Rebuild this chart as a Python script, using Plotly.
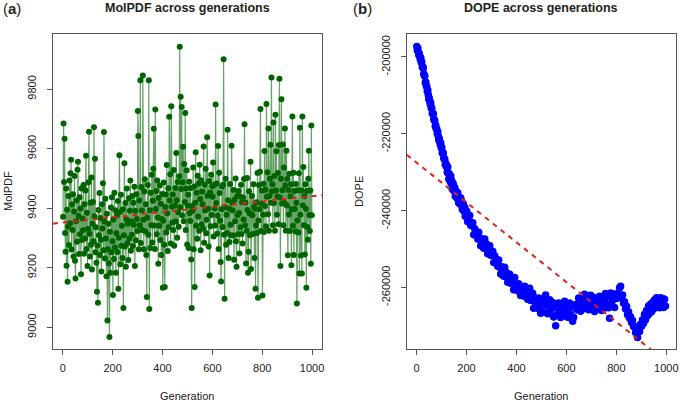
import numpy as np
import plotly.graph_objects as go

# ---------------- data ----------------
# Panel (a): MolPDF per generation (read every 2nd generation)
molpdf = [
    9371, 9684, 9488, 9633, 9317, 9254, 9466, 9207, 9395, 9153, 9338, 9441, 9276, 9493, 9349, 9517, 9563, 9261, 9412, 9327,
    9447, 9238, 9389, 9508, 9223, 9164, 9356, 9426, 9287, 9529, 9556, 9374, 9246, 9437, 9312, 9399, 9178, 9466, 9293, 9365,
    9326, 9478, 9247, 9413, 9298, 9459, 9576, 9263, 9385, 9206, 9331, 9487, 9657, 9314, 9238, 9418, 9277, 9503, 9194, 9348,
    9421, 9289, 9672, 9373, 9566, 9252, 9336, 9217, 9119, 9275, 9082, 9394, 9309, 9451, 9243, 9367, 9294, 9187, 9413, 9332,
    9484, 9259, 9656, 9355, 9231, 9432, 9298, 9171, 9381, 9023, 9262, 9348, 9214, 8967, 9321, 9183, 9402, 9252, 9437, 9289,
    9108, 9362, 9229, 9452, 9268, 9393, 9183, 9316, 9375, 9253, 9424, 9129, 9301, 9578, 9387, 9212, 9445, 9274, 9341, 9233,
    9396, 9065, 9309, 9551, 9271, 9417, 9203, 9363, 9466, 9282, 9348, 9226, 9433, 9298, 9391, 9493, 9257, 9355, 9311, 9441,
    9273, 9418, 9344, 9472, 9206, 9391, 9292, 9447, 9364, 9323, 9726, 9642, 9262, 9426, 9343, 9830, 9283, 9471, 9392, 9327,
    9846, 9361, 9262, 9456, 9497, 9322, 9413, 9243, 9102, 9368, 9478, 9311, 9830, 9061, 9393, 9266, 9452, 9343, 9512, 9285,
    9425, 9532, 9667, 9342, 9263, 9731, 9397, 9458, 9312, 9493, 9369, 9213, 9434, 9341, 9476, 9293, 9415, 9243, 9364, 9448,
    9133, 9358, 9486, 9277, 9135, 9404, 9446, 9318, 9545, 9383, 9256, 9467, 9336, 9707, 9426, 9514, 9281, 9742, 9405, 9352,
    9446, 9327, 9528, 9274, 9409, 9468, 9355, 9585, 9427, 9301, 9488, 9386, 9338, 9507, 9942, 9403, 9774, 9464, 9740, 9375,
    9487, 9606, 9356, 9548, 9421, 9720, 9327, 9466, 9527, 9278, 9408, 9445, 9266, 9489, 9384, 9357, 9468, 9228, 9065, 9407,
    9391, 9537, 9262, 9473, 9135, 9418, 9588, 9341, 9452, 9297, 9509, 9372, 9483, 9324, 9546, 9431, 9259, 9494, 9345, 9456,
    9413, 9331, 9607, 9284, 9479, 9392, 9532, 9316, 9361, 9638, 9442, 9398, 9271, 9491, 9174, 9453, 9339, 9512, 9377, 9474,
    9438, 9553, 9305, 9478, 9399, 9342, 9748, 9417, 9483, 9314, 9375, 9609, 9263, 9519, 9451, 9358, 9219, 9154, 9396, 9473,
    9337, 9479, 9900, 9311, 9096, 9404, 9499, 9277, 9378, 9316, 9663, 9427, 9233, 9399, 9286, 9481, 9344, 9309, 9610, 9418,
    9393, 9308, 9461, 9227, 9428, 9356, 9500, 9289, 9203, 9441, 9377, 9312, 9458, 9384, 9248, 9439, 9336, 9479, 9313, 9420,
    9281, 9436, 9362, 9498, 9682, 9343, 9419, 9214, 9324, 9501, 9394, 9183, 9254, 9457, 9383, 9309, 9556, 9196, 9379, 9441,
    9376, 9313, 9480, 9404, 9233, 9398, 9129, 9342, 9420, 9317, 9518, 9099, 9359, 9478, 9396, 9522, 9733, 9323, 9416, 9459,
    9107, 9378, 9482, 9320, 9592, 9407, 9462, 9339, 9750, 9438, 9521, 9380, 9668, 9324, 9441, 9499, 9613, 9418, 9839, 9457,
    9480, 9343, 9688, 9417, 9508, 9324, 9714, 9459, 9591, 9378, 9439, 9518, 9346, 9612, 9835, 9436, 9206, 9499, 9766, 9416,
    9460, 9614, 9343, 9537, 9417, 9668, 9477, 9324, 9593, 9409, 9498, 9242, 9461, 9379, 9516, 9323, 9440, 9480, 9208, 9396,
    9708, 9341, 9519, 9243, 9458, 9397, 9322, 9481, 9418, 9080, 9359, 9460, 9318, 9517, 9181, 9670, 9378, 9241, 9459, 9181,
    9708, 9409, 9538, 9343, 9440, 9244, 9480, 9398, 9133, 9458, 9337, 9294, 9499, 9593, 9377, 9323, 9459, 9213, 9678, 9376,
]
gen_a = list(range(1, 2 * len(molpdf) + 1, 2))

# Panel (b): DOPE per generation (every 2nd generation up to 199, then every 4th)
dope = [
    -197300, -198250, -197700, -198650, -199500, -199100, -199860, -200620, -200180, -201440,
    -201300, -202660, -202630, -202890, -204350, -204820, -204980, -206640, -206500, -207510,
    -207730, -208940, -208660, -209870, -210990, -210700, -211540, -212380, -212020, -213350,
    -213290, -214730, -214670, -214810, -216150, -216480, -216520, -218060, -217800, -218700,
    -218800, -219900, -219500, -220600, -221600, -221200, -222000, -222800, -222400, -223700,
    -223600, -225000, -224900, -225000, -226300, -226600, -226550, -228000, -227650, -228500,
    -228350, -230000, -228650, -230300, -231750, -230400, -231400, -232400, -231000, -233000,
    -232200, -234400, -233530, -232990, -234850, -234710, -233970, -236230, -234890, -235950,
    -235410, -236870, -235330, -236790, -238050, -236510, -237370, -238230, -236690, -238550,
    -237610, -239670, -238730, -238200, -240070, -239940, -239210, -241480, -240150, -241220,
    -240190, -242930, -241970, -241280, -243880, -243790, -243190, -246300,
    -244700, -246000, -245790, -247370, -245660, -247440, -249130, -247310, -248280, -249790,
    -247400, -249700, -248710, -251220, -250020, -249160, -251600, -251340, -250580, -253520,
    -251760, -252900, -252780, -254460, -252840, -254720, -256500, -254640, -255580, -257120,
    -254760, -257100, -256140, -258680, -257520, -256590, -258940, -258590, -257740, -260590,
    -257440, -259790, -259440, -260890, -259040, -260630, -262100, -260070, -260840, -262210,
    -259680, -261850, -260720, -263090, -261760, -260230, -263420, -262830, -261540, -265430,
    -262740, -264110, -263520, -265450, -262760, -264830, -266710, -263700, -264600, -266350,
    -262630, -262000, -263740, -266870, -264820, -263190, -266180, -265440, -263950, -267690,
    -264800, -270000, -265230, -266960, -264020, -266030, -267850, -264820, -265660, -267390,
    -263610, -266460, -264640, -267770, -265670, -264040, -266980, -267900, -268800, -267740,
    -264600, -265420, -264380, -265860, -262720, -264480, -266200, -263020, -263860, -265540,
    -261760, -264560, -262740, -262300, -265820, -263720, -262040, -264980, -264140, -262600,
    -266240, -263300, -264420, -263580, -265260, -262270, -264230, -266000, -262920, -263710,
    -265340, -261560, -264260, -262340, -265320, -268000, -261440, -264280, -263340, -261700,
    -265240, -262200, -262900, -261600, -262700, -260100, -259700, -262100, -262000, -264100,
    -263700, -265600, -264900, -267100, -266300, -268000, -267600, -269100, -268600, -270200,
    -270200, -271700, -271600, -273000, -271400, -271500, -269600, -270100, -268400, -269300,
    -267000, -268400, -266000, -267400, -264800, -266700, -264400, -266300, -263900, -265600,
    -263200, -264900, -262700, -265100, -263400, -265300, -262700, -264500, -262900, -265200,
    -263100, -264800,
]
gen_b = list(range(1, 200, 2)) + list(range(201, 1000, 4))

# tick labels
x_ticks = [0, 200, 400, 600, 800, 1000]
x_ticklabels = ["0", "200", "400", "600", "800", "1000"]
ya_ticks = [9000, 9200, 9400, 9600, 9800]
ya_ticklabels = ["9000", "9200", "9400", "9600", "9800"]
yb_ticks = [-260000, -240000, -220000, -200000]
yb_ticklabels = ["-260000", "-240000", "-220000", "-200000"]

titles = ["MolPDF across generations", "DOPE across generations"]
ylabels = ["MolPDF", "DOPE"]
xlabel = "Generation"

# ---------------- figure ----------------
W, H = 682, 403
xa_rng = [-40, 1040]
ya_rng = [8927, 9985]
xb_rng = [-39, 1039]
yb_rng = [-276026, -194026]

n_b = min(len(gen_b), len(dope))
gen_b, dope = gen_b[:n_b], dope[:n_b]

# linear trends (panel b fitted on the evenly spaced subset so early points are not over-weighted)
fa = np.polyfit(gen_a, molpdf, 1)
even_b = [(g, v) for g, v in zip(gen_b, dope) if (g - 1) % 4 == 0]
fb = np.polyfit([g for g, _ in even_b], [v for _, v in even_b], 1)

fig = go.Figure()
fig.add_trace(go.Scatter(
    x=gen_a, y=molpdf, mode="lines+markers",
    line=dict(color="rgba(0,100,0,0.6)", width=1.2),
    marker=dict(color="#006400", size=6, line=dict(width=0)),
    xaxis="x", yaxis="y", showlegend=False))
fig.add_trace(go.Scatter(
    x=xa_rng, y=[fa[1] + fa[0] * v for v in xa_rng], mode="lines",
    line=dict(color="#e0201a", width=2, dash="5px,5px"),
    xaxis="x", yaxis="y", showlegend=False))
fig.add_trace(go.Scatter(
    x=gen_b, y=dope, mode="markers",
    marker=dict(color="#0000ff", size=7.5, line=dict(width=0)),
    xaxis="x2", yaxis="y2", showlegend=False))
fig.add_trace(go.Scatter(
    x=xb_rng, y=[fb[1] + fb[0] * v for v in xb_rng], mode="lines",
    line=dict(color="#e0201a", width=2, dash="5px,5px"),
    xaxis="x2", yaxis="y2", showlegend=False))

FONT = "Liberation Sans, Arial, sans-serif"
axis_common = dict(showgrid=False, zeroline=False, showline=True, mirror=True,
                   linecolor="#555555", linewidth=1, ticks="outside", ticklen=5,
                   tickwidth=1, tickcolor="#555555",
                   tickfont=dict(family=FONT, size=11, color="#222222"))

ydom = [1 - 349 / H, 1 - 34 / H]
fig.update_layout(
    width=W, height=H, margin=dict(l=0, r=0, t=0, b=0),
    paper_bgcolor="white", plot_bgcolor="white",
    xaxis=dict(domain=[53 / W, 323 / W], range=xa_rng, tickvals=x_ticks,
               ticktext=x_ticklabels, anchor="y", ticklabelstandoff=4, **axis_common),
    yaxis=dict(domain=ydom, range=ya_rng, tickvals=ya_ticks, ticktext=ya_ticklabels,
               tickangle=-90, anchor="x", ticklabelstandoff=6, **axis_common),
    xaxis2=dict(domain=[408 / W, 678 / W], range=xb_rng, tickvals=x_ticks,
                ticktext=x_ticklabels, anchor="y2", ticklabelstandoff=4, **axis_common),
    yaxis2=dict(domain=ydom, range=yb_rng, tickvals=yb_ticks, ticktext=yb_ticklabels,
                tickangle=-90, anchor="x2", ticklabelstandoff=6, **axis_common),
)

ann = []
# panel titles
ann.append(dict(x=188 / W, y=1 - 8 / H, text="<b>" + titles[0] + "</b>", showarrow=False,
                xref="paper", yref="paper", font=dict(family=FONT, size=12.5, color="#222222"),
                xanchor="center", yanchor="middle"))
ann.append(dict(x=543 / W, y=1 - 8 / H, text="<b>" + titles[1] + "</b>", showarrow=False,
                xref="paper", yref="paper", font=dict(family=FONT, size=12.5, color="#222222"),
                xanchor="center", yanchor="middle"))
# panel letters
ann.append(dict(x=1 / W, y=1 - 9 / H, text="(<b>a</b>)", showarrow=False, xref="paper",
                yref="paper", font=dict(family=FONT, size=15, color="#222222"),
                xanchor="left", yanchor="middle"))
ann.append(dict(x=352 / W, y=1 - 9 / H, text="(<b>b</b>)", showarrow=False, xref="paper",
                yref="paper", font=dict(family=FONT, size=15, color="#222222"),
                xanchor="left", yanchor="middle"))
# x-axis titles
for cx in (188, 543):
    ann.append(dict(x=cx / W, y=1 - 396 / H, text=xlabel, showarrow=False, xref="paper",
                    yref="paper", font=dict(family=FONT, size=11, color="#222222"),
                    xanchor="center", yanchor="middle"))
# y-axis titles
ann.append(dict(x=8 / W, y=1 - 191 / H, text=ylabels[0], showarrow=False, xref="paper",
                yref="paper", textangle=-90, font=dict(family=FONT, size=11, color="#222222"),
                xanchor="center", yanchor="middle"))
ann.append(dict(x=360 / W, y=1 - 191 / H, text=ylabels[1], showarrow=False, xref="paper",
                yref="paper", textangle=-90, font=dict(family=FONT, size=11, color="#222222"),
                xanchor="center", yanchor="middle"))
fig.update_layout(annotations=ann)

fig.write_html("out.html")
